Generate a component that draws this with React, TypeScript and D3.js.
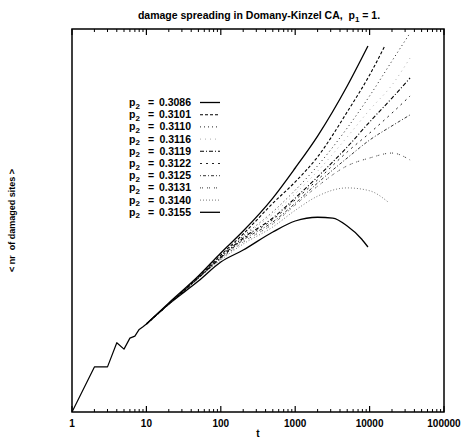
import React, { useEffect, useRef } from "react";
import * as d3 from "d3";

// shared start, identical for all p2 (t = 1..10)
const tEarly = [1, 2, 3, 4, 5, 6, 7, 8, 9, 10];
const nEarly = [1, 1.72, 1.72, 2.3, 2.13, 2.43, 2.49, 2.7, 2.79, 2.88];

// common time grid for the runs that reach t = 35000
const tMain = [10, 20, 50, 100, 200, 500, 1000, 2000, 5000, 10000, 20000, 35000];

const t3086 = [10, 20, 50, 100, 200, 500, 1000, 2000, 5000, 9500];
const n3086 = [2.88, 3.71, 5.13, 6.77, 8.81, 13.1, 18.8, 27.6, 50.4, 81.5];

const t3101 = [10, 20, 50, 100, 200, 500, 1000, 2000, 5000, 10000, 16000];
const n3101 = [2.88, 3.66, 5.07, 6.6, 8.5, 12.3, 15.9, 21.5, 36.9, 57.5, 81.5];

const n3110 = [2.88, 3.66, 5.01, 6.53, 8.3, 11.1, 14.4, 19.3, 30.4, 44.7, 68.1, 95.3];
const n3116 = [2.88, 3.66, 5.01, 6.53, 8.2, 10.8, 13.8, 18.1, 27.3, 37.8, 51.0, 70.6];
const n3119 = [2.88, 3.66, 5.01, 6.45, 8.1, 10.3, 13.1, 16.9, 24.2, 32.7, 43.6, 55.5];
const n3122 = [2.88, 3.66, 5.01, 6.37, 8.01, 10.1, 12.8, 16.3, 22.8, 28.6, 36.4, 44.7];
const n3125 = [2.88, 3.66, 5.01, 6.37, 7.91, 9.82, 12.3, 15.7, 21.2, 26.3, 31.2, 35.6];
const n3131 = [2.88, 3.66, 5.01, 6.3, 7.72, 9.59, 12.05, 15.1, 19.3, 21.2, 22.5, 20.7];

const t3140 = [10, 20, 50, 100, 200, 500, 1000, 2000, 5000, 10000, 17700];
const n3140 = [2.88, 3.66, 5.01, 6.22, 7.54, 9.25, 11.3, 13.4, 14.8, 14.3, 12.5];

const t3155 = [10, 20, 50, 100, 200, 500, 1000, 2000, 3200, 5000, 7800, 9500];
const n3155 = [2.88, 3.66, 4.83, 6.07, 7.01, 8.71, 9.94, 10.4, 10.3, 9.36, 8.01, 7.27];

const labels = ["0.3086", "0.3101", "0.3110", "0.3116", "0.3119", "0.3122", "0.3125", "0.3131", "0.3140", "0.3155"];
const xTicks = [1, 10, 100, 1000, 10000, 100000];

const FONT = "'Liberation Sans', Arial, sans-serif";

const App = () => {
  const svgRef = useRef<SVGSVGElement>(null);

  useEffect(() => {
    const svg = d3.select(svgRef.current);
    svg.selectAll("*").remove();

    const left = 72, right = 444, top = 29, bottom = 412;

    const x = d3.scaleLog().domain([1, 100000]).range([left, right]);
    const y = d3.scaleLog().domain([1, 100]).range([bottom, top]);

    // line style per series (legend order)
    const styles = [
      { dash: null, w: 1.3, c: "#000" },
      { dash: "3,2", w: 1.1, c: "#000" },
      { dash: "1,3", w: 1, c: "#222" },
      { dash: "1,4", w: 0.8, c: "#999" },
      { dash: "4,2,1,2", w: 1.1, c: "#000" },
      { dash: "2,4", w: 1, c: "#222" },
      { dash: "1,2,3,2", w: 1, c: "#333" },
      { dash: "1,1,1,4", w: 1, c: "#333" },
      { dash: "1,2", w: 0.8, c: "#555" },
      { dash: null, w: 1.3, c: "#000" },
    ];
    const runs = [
      [t3086, n3086], [t3101, n3101], [tMain, n3110], [tMain, n3116], [tMain, n3119],
      [tMain, n3122], [tMain, n3125], [tMain, n3131], [t3140, n3140], [t3155, n3155],
    ];

    svg.append("defs").append("clipPath").attr("id", "plotclip")
      .append("rect").attr("x", left).attr("y", top).attr("width", right - left).attr("height", bottom - top);

    const line = d3.line<[number, number]>()
      .x((d) => x(d[0]))
      .y((d) => y(d[1]))
      .curve(d3.curveMonotoneX);
    const lineLin = d3.line<[number, number]>()
      .x((d) => x(d[0]))
      .y((d) => y(d[1]));

    const g = svg.append("g").attr("clip-path", "url(#plotclip)");

    // early part is the same for every run
    g.append("path")
      .attr("d", lineLin(tEarly.map((t, k) => [t, nEarly[k]] as [number, number])))
      .attr("fill", "none")
      .attr("stroke", "#000")
      .attr("stroke-width", 1.2)
      .attr("stroke-linejoin", "round");

    // draw the lower curves first so the top solid one sits on top
    runs.map((r, i) => i).reverse().forEach((i) => {
      const [ts, ns] = runs[i];
      const pts: [number, number][] = ts.map((t, k) => [t, ns[k]] as [number, number]);
      const s = styles[i];
      g.append("path")
        .attr("d", line(pts))
        .attr("fill", "none")
        .attr("stroke", s.c)
        .attr("stroke-width", s.w)
        .attr("stroke-dasharray", s.dash);
    });

    // frame
    svg.append("rect")
      .attr("x", left).attr("y", top).attr("width", right - left).attr("height", bottom - top)
      .attr("fill", "none").attr("stroke", "#000").attr("stroke-width", 1.5);

    // ticks on bottom and top (inward), major + minor
    const minor: number[] = [];
    for (let e = 0; e < 5; e++) for (let m = 2; m <= 9; m++) minor.push(m * Math.pow(10, e));
    const tickG = svg.append("g").attr("stroke", "#000");
    xTicks.forEach((t) => {
      tickG.append("line").attr("x1", x(t)).attr("x2", x(t)).attr("y1", bottom).attr("y2", bottom - 6).attr("stroke-width", 1.2);
      tickG.append("line").attr("x1", x(t)).attr("x2", x(t)).attr("y1", top).attr("y2", top + 6).attr("stroke-width", 1.2);
    });
    minor.forEach((t) => {
      tickG.append("line").attr("x1", x(t)).attr("x2", x(t)).attr("y1", bottom).attr("y2", bottom - 3).attr("stroke-width", 1);
      tickG.append("line").attr("x1", x(t)).attr("x2", x(t)).attr("y1", top).attr("y2", top + 3).attr("stroke-width", 1);
    });

    // tick labels
    svg.append("g").selectAll("text").data(xTicks).enter().append("text")
      .attr("x", (d) => x(d))
      .attr("y", 427)
      .attr("text-anchor", "middle")
      .style("font-family", FONT)
      .style("font-size", "10px")
      .style("font-weight", "bold")
      .text((d) => String(d));

    svg.append("text")
      .attr("x", (left + right) / 2).attr("y", 437)
      .attr("text-anchor", "middle")
      .style("font-family", FONT).style("font-size", "10px").style("font-weight", "bold")
      .text("t");

    svg.append("text")
      .attr("transform", `translate(15,${(top + bottom) / 2}) rotate(-90)`)
      .attr("text-anchor", "middle")
      .style("font-family", FONT).style("font-size", "9px").style("font-weight", "bold")
      .style("white-space", "pre")
      .text("< nr  of damaged sites >");

    // title
    const title = svg.append("text")
      .attr("x", 259).attr("y", 19)
      .attr("text-anchor", "middle")
      .style("font-family", FONT).style("font-size", "10.5px").style("font-weight", "bold")
      .style("white-space", "pre");
    title.append("tspan").text("damage spreading in Domany-Kinzel CA,  p");
    title.append("tspan").attr("dy", 3).style("font-size", "8px").text("1");
    title.append("tspan").attr("dy", -3).text(" = 1.");

    // legend
    const lg = svg.append("g");
    labels.forEach((lab, i) => {
      const yy = 106 + i * 12.2;
      const t = lg.append("text").attr("x", 129).attr("y", yy)
        .style("font-family", FONT).style("font-size", "10.5px").style("font-weight", "bold");
      t.append("tspan").text("p");
      t.append("tspan").attr("dy", 2.5).style("font-size", "8px").text("2");
      lg.append("text").attr("x", 151).attr("y", yy).attr("text-anchor", "middle")
        .style("font-family", FONT).style("font-size", "10.5px").style("font-weight", "bold")
        .text("=");
      lg.append("text").attr("x", 191).attr("y", yy).attr("text-anchor", "end")
        .style("font-family", FONT).style("font-size", "10.5px").style("font-weight", "bold")
        .text(lab);
      const s = styles[i];
      lg.append("line")
        .attr("x1", 200).attr("x2", 220).attr("y1", yy - 3.5).attr("y2", yy - 3.5)
        .attr("stroke", s.c).attr("stroke-width", s.w)
        .attr("stroke-dasharray", s.dash);
    });
  }, []);

  return (
    <svg
      ref={svgRef}
      width={464}
      height={439}
      style={{ position: "absolute", left: 0, top: 0, background: "#fff" }}
    ></svg>
  );
};

export default App;
